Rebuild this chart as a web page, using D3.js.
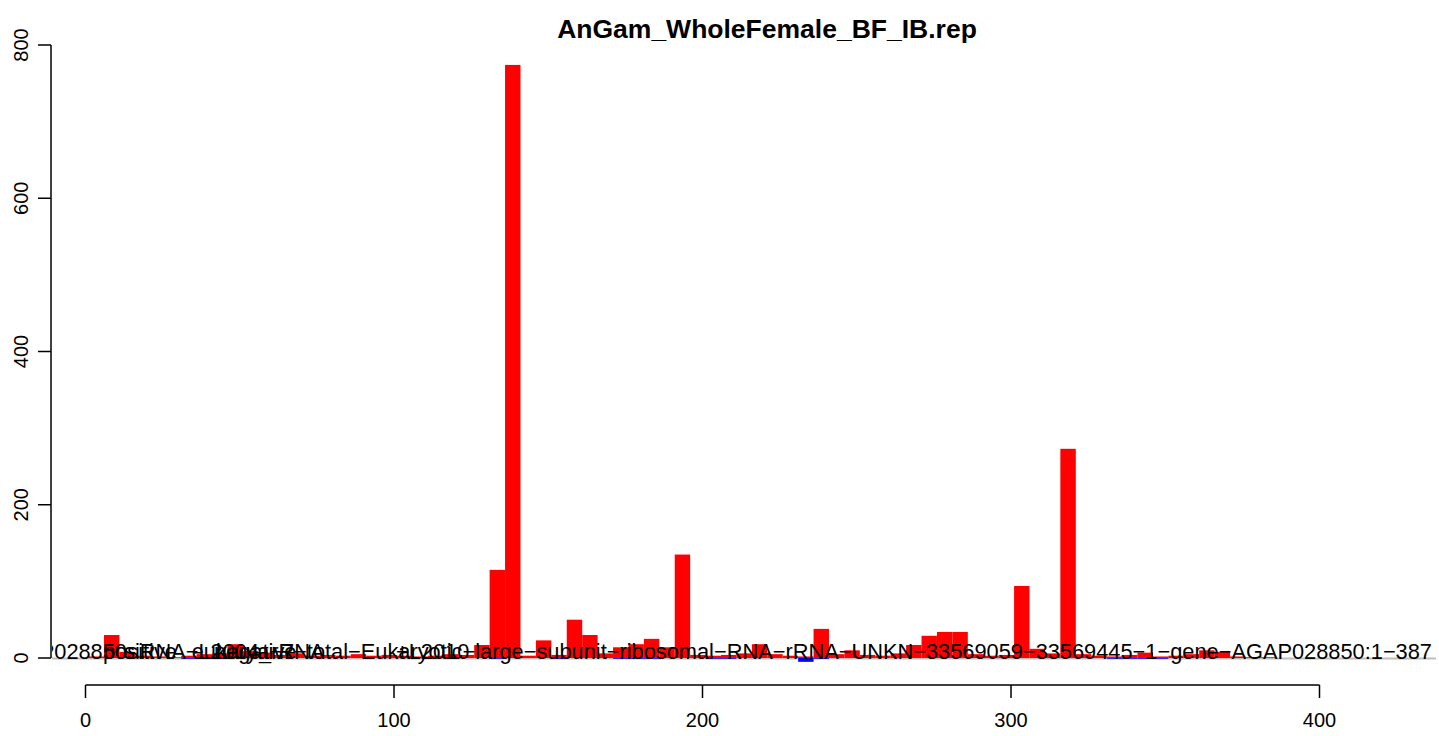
<!DOCTYPE html>
<html lang="en">
<head>
<meta charset="UTF-8">
<title>AnGam_WholeFemale_BF_IB.rep</title>
<style>
  body { margin: 0; background: #fff; }
  text { font-family: "Liberation Sans", Arial, Helvetica, sans-serif; }
</style>
</head>
<body>
<svg width="1439" height="736"></svg>
<script src="https://d3js.org/d3.v7.min.js"></script>
<script>

  var chartTitle = "AnGam_WholeFemale_BF_IB.rep";

  // bins of 5 nt along the 387 nt reference, start positions
  var binStarts = d3.range(1, 388, 5);

  // read counts per bin, sense strand (red, drawn up)
  var positiveCounts = [
    2, 30, 8, 3, 2, 1, 3, 5, 6, 18,
    9, 7, 4, 6, 3, 4, 3, 5, 3, 4,
    3, 2, 3, 5, 4, 17, 115, 774, 3, 23,
    4, 50, 30, 6, 14, 18, 25, 14, 135, 4,
    3, 4, 6, 18, 5, 3, 2, 38, 5, 10,
    4, 3, 6, 17, 29, 34, 34, 5, 3, 4,
    94, 12, 6, 273, 5, 3, 2, 4, 7, 2,
    3, 5, 10, 8, 2, 1, 1, 0
  ];

  // antisense strand (blue, drawn down)
  var negativeCounts = [
    0, 0, 0, 0, 0, 0, 1, 1, 1, 0,
    0, 0, 0, 0, 0, 0, 0, 0, 0, 0,
    0, 0, 0, 0, 0, 0, 1, 0, 0, 0,
    1, 0, 0, 0, 1, 1, 1, 0, 0, 0,
    1, 1, 0, 0, 0, 0, 5, 1, 0, 0,
    0, 0, 0, 0, 0, 0, 0, 0, 0, 0,
    0, 0, 0, 0, 0, 0, 1, 1, 1, 1,
    0, 0, 0, 0, 0, 0, 0, 0
  ];

  var xTicks = [0, 100, 200, 300, 400];
  var yTicks = [0, 200, 400, 600, 800];

  // labels written on the zero line, they overlap like in the original
  var baseLabels = [
    { text: "AGAP028850", at: 127, anchor: "end" },
    { text: "positive", at: 103, anchor: "start" },
    { text: "siRNA-L2004_rRNA", at: 124, anchor: "start" },
    { text: "negative", at: 214, anchor: "start" },
    { text: "+L2010", at: 396, anchor: "start" },
    { text: "eukarya-7-total-Eukaryotic-large-subunit-ribosomal-RNA-rRNA-UNKN-33569059-33569445-1-gene-AGAP028850:1-387", at: 1432, anchor: "end" }
  ];

  var svg = d3.select("svg");

  var x = d3.scaleLinear().domain([0, 400]).range([85.5, 1319.5]);
  var y = d3.scaleLinear().domain([0, 800]).range([658, 45]);

  var plotLeft = 52, plotRight = 1436, plotBottom = 685;

  svg.append("defs").append("clipPath").attr("id", "plotclip")
    .append("rect")
    .attr("x", plotLeft).attr("y", 0)
    .attr("width", plotRight - plotLeft).attr("height", plotBottom);

  var plot = svg.append("g").attr("clip-path", "url(#plotclip)");

  plot.append("line")
    .attr("x1", plotLeft).attr("x2", plotRight)
    .attr("y1", y(0) + 0.5).attr("y2", y(0) + 0.5)
    .attr("stroke", "#bebebe").attr("stroke-width", 2);

  plot.selectAll(".pos")
    .data(binStarts)
    .enter()
    .append("rect")
    .attr("class", "pos")
    .attr("x", function(d) { return x(d); })
    .attr("width", function(d) { return x(d + 5) - x(d); })
    .attr("y", function(d, i) { return y(positiveCounts[i]); })
    .attr("height", function(d, i) { return y(0) - y(positiveCounts[i]); })
    .attr("fill", "#ff0000");

  plot.selectAll(".neg")
    .data(binStarts)
    .enter()
    .append("rect")
    .attr("class", "neg")
    .attr("x", function(d) { return x(d); })
    .attr("width", function(d) { return x(d + 5) - x(d); })
    .attr("y", y(0))
    .attr("height", function(d, i) { return y(-negativeCounts[i]) - y(0); })
    .attr("fill", "#0000ff");

  plot.selectAll(".lab")
    .data(baseLabels)
    .enter()
    .append("text")
    .attr("class", "lab")
    .attr("x", function(d) { return d.at; })
    .attr("y", y(0) + 1)
    .attr("text-anchor", function(d) { return d.anchor; })
    .style("font-size", "21.8px")
    .text(function(d) { return d.text.replace(/-/g, "\u2212"); });

  // axes, R style
  var xAxis = svg.append("g").attr("transform", "translate(0," + plotBottom + ")");
  xAxis.append("line")
    .attr("x1", x(0)).attr("x2", x(400))
    .attr("stroke", "#000").attr("stroke-width", 1.5);
  xAxis.selectAll(".tick")
    .data(xTicks)
    .enter()
    .append("line")
    .attr("x1", function(d) { return x(d); }).attr("x2", function(d) { return x(d); })
    .attr("y1", 0).attr("y2", 13)
    .attr("stroke", "#000").attr("stroke-width", 1.5);
  xAxis.selectAll(".ticklab")
    .data(xTicks)
    .enter()
    .append("text")
    .attr("x", function(d) { return x(d); })
    .attr("y", 42)
    .attr("text-anchor", "middle")
    .style("font-size", "20px")
    .text(function(d) { return d; });

  var yAxis = svg.append("g").attr("transform", "translate(51,0)");
  yAxis.append("line")
    .attr("y1", y(0)).attr("y2", y(800))
    .attr("stroke", "#000").attr("stroke-width", 1.5);
  yAxis.selectAll(".tick")
    .data(yTicks)
    .enter()
    .append("line")
    .attr("y1", function(d) { return y(d); }).attr("y2", function(d) { return y(d); })
    .attr("x1", 0).attr("x2", -13)
    .attr("stroke", "#000").attr("stroke-width", 1.5);
  yAxis.selectAll(".ticklab")
    .data(yTicks)
    .enter()
    .append("text")
    .attr("transform", function(d) { return "translate(-23," + y(d) + ") rotate(-90)"; })
    .attr("text-anchor", "middle")
    .style("font-size", "20px")
    .text(function(d) { return d; });

  svg.append("text")
    .attr("x", 767)
    .attr("y", 38)
    .attr("text-anchor", "middle")
    .style("font-size", "26.5px")
    .style("font-weight", "bold")
    .text(chartTitle);

</script>
</body>
</html>
